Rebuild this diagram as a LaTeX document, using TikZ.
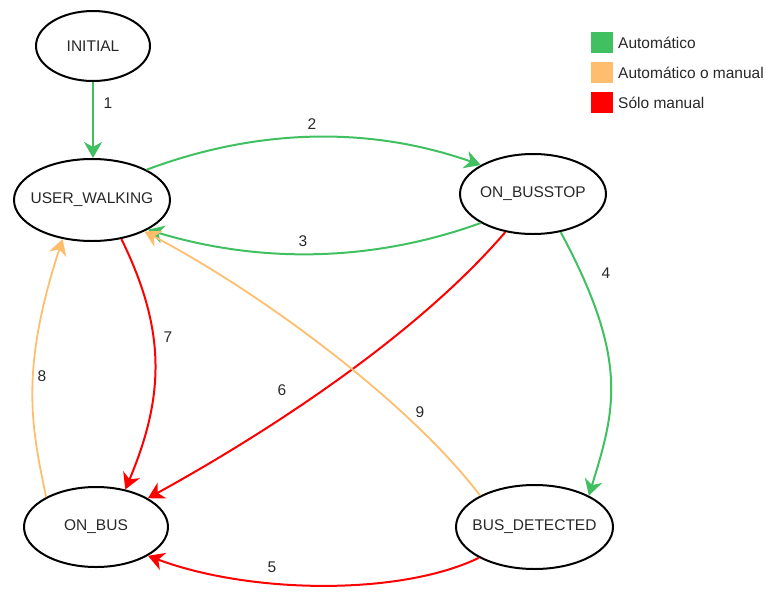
\documentclass[tikz,border=0pt]{standalone}
\usepackage{fontspec}
\setmainfont{Liberation Sans}
\usetikzlibrary{arrows.meta,shapes.geometric}

\definecolor{autogreen}{RGB}{64,192,96}
\definecolor{mixorange}{RGB}{255,190,110}
\definecolor{manualred}{RGB}{255,0,0}
\definecolor{inkgray}{RGB}{40,40,40}

% centred state name that does not widen its ellipse
\newcommand{\statename}[1]{\makebox[0pt]{#1}}

\begin{document}
\begin{tikzpicture}[x=1pt,y=-1pt,
  labelfont/.style={font=\fontsize{15.5}{18}\selectfont, text=inkgray},
  state/.style={ellipse, draw=black, line width=2pt, fill=white, inner sep=0pt, labelfont},
  trans/.style={line width=2pt, -{Stealth[length=16pt,width=18pt,inset=5pt]}},
  autoedge/.style={trans, draw=autogreen},
  mixedge/.style={trans, draw=mixorange, line width=1.8pt},
  manualedge/.style={trans, draw=manualred},
  num/.style={labelfont, inner sep=0pt},
  swatch/.style={minimum width=22pt, minimum height=21pt, inner sep=0pt, draw=none},
  legendtext/.style={labelfont, anchor=west, inner sep=0pt}
]
\useasboundingbox (0,0) rectangle (766,592);

% states
\node[state, minimum width=114pt, minimum height=70pt] (init) at (93,46)     {\statename{INITIAL}};
\node[state, minimum width=156pt, minimum height=82pt] (uw)   at (92,200)    {\statename{USER\_WALKING}};
\node[state, minimum width=146pt, minimum height=80pt] (bs)   at (533,194)   {\statename{ON\_BUSSTOP}};
\node[state, minimum width=144pt, minimum height=80pt] (bus)  at (96,527)    {\statename{ON\_BUS}};
\node[state, minimum width=157pt, minimum height=84pt] (det)  at (534.5,527) {\statename{BUS\_DETECTED}};

% transitions
\draw[autoedge] (init.-90) -- (init.-90 |- uw.90);
\draw[autoedge] (uw.29) .. controls (258,128) and (370,126) .. (bs.151);
\draw[autoedge] (bs.209) .. controls (370,263) and (258,263) .. (uw.-28);
\draw[autoedge] (bs.-54) .. controls (630,361) and (615,410) .. (det.30);
\draw[manualedge] (det.209) .. controls (400,596) and (250,594) .. (bus.-29);
\draw[manualedge] (bs.234) .. controls (417,335) and (270,431) .. (bus.29);
\draw[manualedge] (uw.-53) .. controls (166,330) and (165,395) .. (bus.52);
\draw[mixedge] (bus.149) .. controls (31,425) and (20,370) .. (uw.-127);
\draw[mixedge] (det.150) .. controls (409,402) and (260,292) .. (uw.-31);

% transition numbers
\node[num] (n1) at (108,103) {1};
\node[num] (n2) at (312,124) {2};
\node[num] (n3) at (303,241) {3};
\node[num] (n4) at (606,273) {4};
\node[num] (n5) at (272,567) {5};
\node[num] (n6) at (282,390) {6};
\node[num] (n7) at (168,337) {7};
\node[num] (n8) at (42,376)  {8};
\node[num] (n9) at (420,412) {9};

% legend
\node[swatch, fill=autogreen]  (kg) at (601.5,42.5) {};
\node[swatch, fill=mixorange]  (ko) at (601.5,72.5) {};
\node[swatch, fill=manualred]  (kr) at (601.5,102)  {};
\node[legendtext] (tg) at (618,43)  {Automático};
\node[legendtext] (to) at (618,73)  {Automático o manual};
\node[legendtext] (tr) at (618,103) {Sólo manual};
\end{tikzpicture}
\end{document}
